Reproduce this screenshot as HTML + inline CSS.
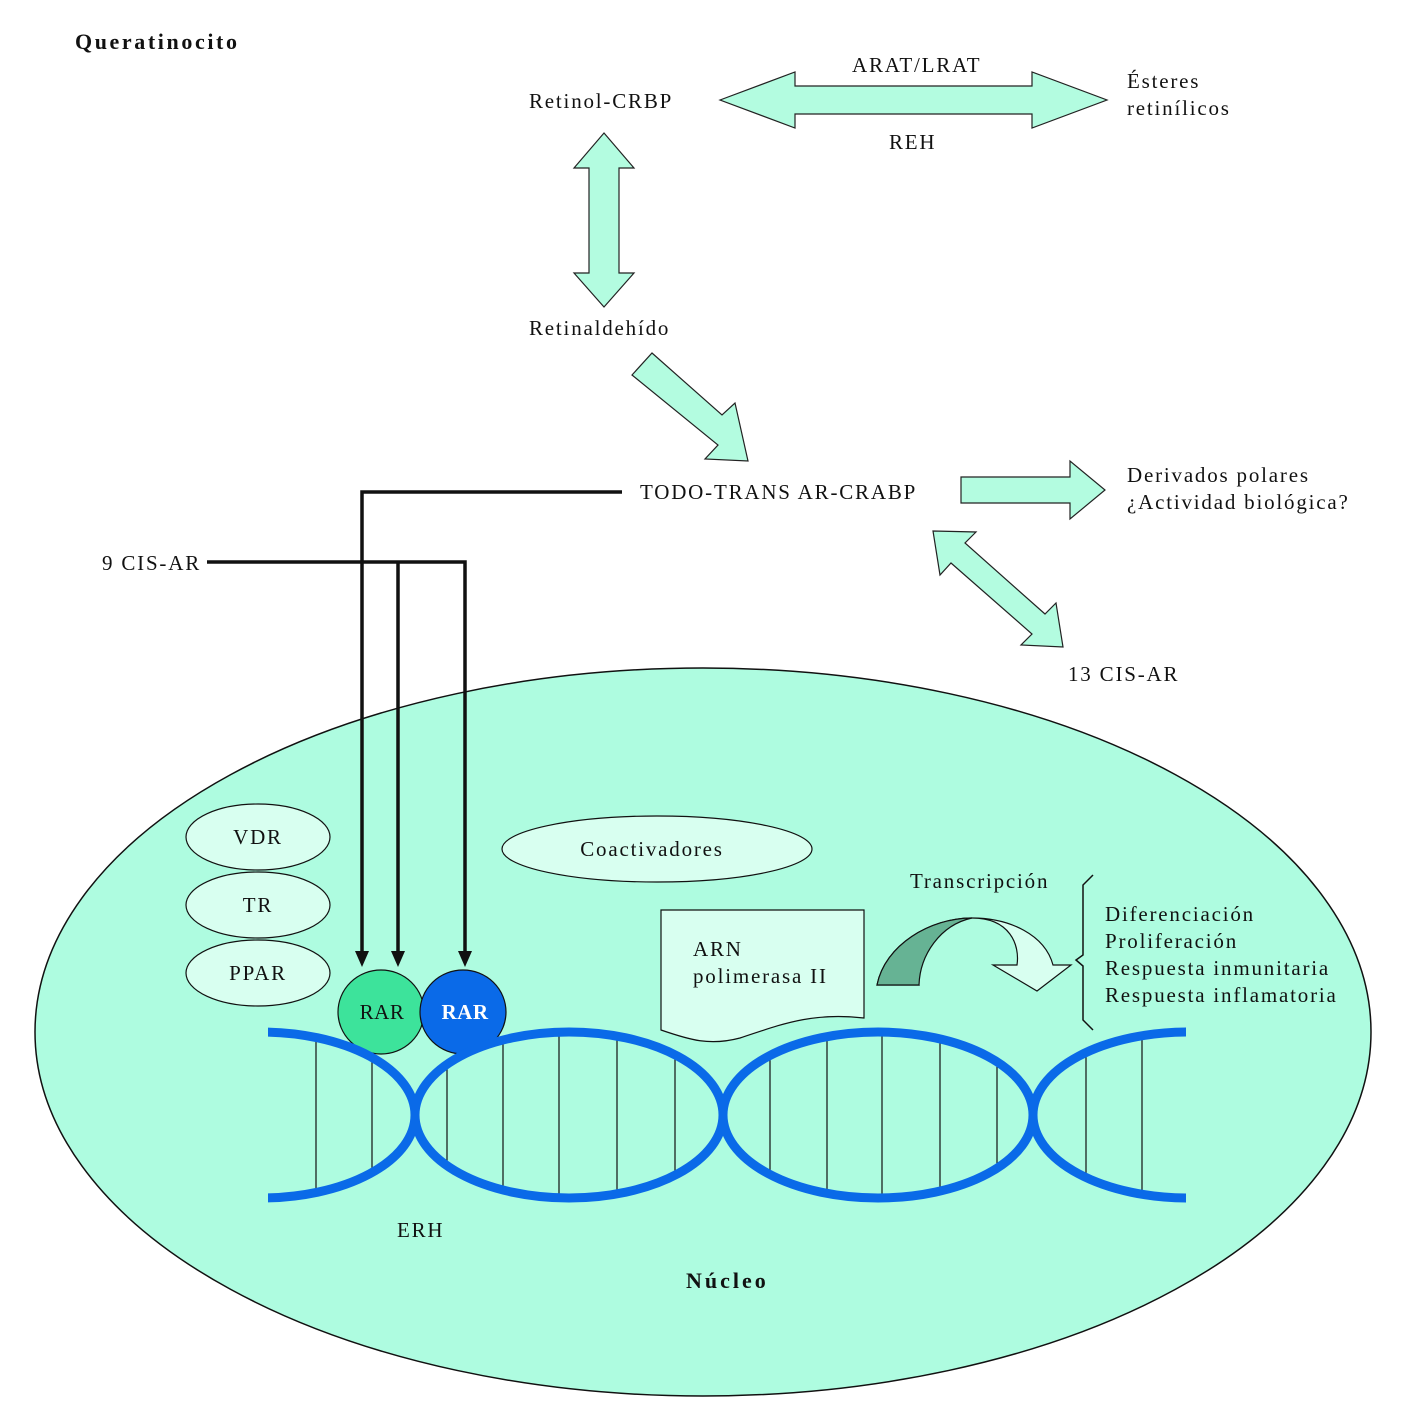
<!DOCTYPE html>
<html><head><meta charset="utf-8"><style>
html,body{margin:0;padding:0;background:#fff;}
svg{display:block;}
text{font-family:"Liberation Serif",serif;font-size:21px;fill:#111;letter-spacing:1.8px;}
</style></head><body>
<svg width="1416" height="1414" viewBox="0 0 1416 1414" xmlns="http://www.w3.org/2000/svg">
<defs>
<clipPath id="lens">
<ellipse cx="261" cy="1115" rx="154" ry="83"/>
<ellipse cx="569" cy="1115" rx="154" ry="83"/>
<ellipse cx="878" cy="1115" rx="155" ry="83"/>
<ellipse cx="1188" cy="1115" rx="155" ry="83"/>
</clipPath>
<clipPath id="dnaclip"><rect x="268" y="1000" width="918" height="230"/></clipPath>
</defs>

<text x="75" y="49" style="font-weight:bold;font-size:22px;letter-spacing:2.6px">Queratinocito</text>

<polygon points="720,100 795,72 795,86 1032,86 1032,72 1107,100 1032,128 1032,114 795,114 795,128" fill="#b3fce0" stroke="#222" stroke-width="1.2"/>
<text x="852" y="72">ARAT/LRAT</text>
<text x="889" y="149">REH</text>
<text x="529" y="108">Retinol-CRBP</text>
<text x="1127" y="88">Ésteres</text>
<text x="1127" y="115">retinílicos</text>

<polygon points="604,133 634,168 619,168 619,273 634,273 604,307 574,273 589,273 589,168 574,168" fill="#b3fce0" stroke="#222" stroke-width="1.2"/>
<text x="529" y="335">Retinaldehído</text>

<polygon points="632,375 652,353 722,415 735,403 748,461 705,459 718,445 632,375" fill="#b3fce0" stroke="#222" stroke-width="1.2"/>
<text x="640" y="499">TODO-TRANS AR-CRABP</text>

<polygon points="961,477 1070,477 1070,461 1105,490 1070,519 1070,503 961,503" fill="#b3fce0" stroke="#222" stroke-width="1.2"/>
<text x="1127" y="482">Derivados polares</text>
<text x="1127" y="509">¿Actividad biológica?</text>

<polygon points="933,531 976,532 965,543 1045,614 1056,603 1063,647 1021,645 1032,634 951,563 940,575" fill="#b3fce0" stroke="#222" stroke-width="1.2"/>
<text x="1068" y="681">13 CIS-AR</text>

<text x="102" y="570">9 CIS-AR</text>

<ellipse cx="703" cy="1032" rx="668" ry="364" fill="#aefce0" stroke="#111" stroke-width="1.5"/>

<ellipse cx="258" cy="837" rx="72" ry="33" fill="#d8fff0" stroke="#111" stroke-width="1.2"/>
<ellipse cx="258" cy="905" rx="72" ry="33" fill="#d8fff0" stroke="#111" stroke-width="1.2"/>
<ellipse cx="258" cy="973" rx="72" ry="33" fill="#d8fff0" stroke="#111" stroke-width="1.2"/>
<text x="258" y="844" text-anchor="middle">VDR</text>
<text x="258" y="912" text-anchor="middle">TR</text>
<text x="258" y="980" text-anchor="middle">PPAR</text>
<ellipse cx="657" cy="849" rx="155" ry="33" fill="#d8fff0" stroke="#111" stroke-width="1.2"/>
<text x="652" y="856" text-anchor="middle">Coactivadores</text>

<path d="M661,910 L864,910 L864,1018 C810,1012 780,1025 740,1038 C710,1046 690,1040 661,1030 Z" fill="#d8fff0" stroke="#111" stroke-width="1.2"/>
<text x="693" y="956">ARN</text>
<text x="693" y="983">polimerasa II</text>

<path d="M877,985 C885,945 930,918 972,918 C1010,918 1020,945 1017,965 L993,965 L1037,991 L1071,965 L1053,965 C1045,935 1010,918 972,918 C930,918 905,950 919,985 Z" fill="#d8fff0" stroke="#111" stroke-width="1.2"/>
<path d="M877,985 C885,945 930,918 972,918 C940,925 920,955 919,985 Z" fill="#66b394" stroke="#111" stroke-width="1.2"/>
<text x="910" y="888">Transcripción</text>
<path d="M1093,875 L1083,885 L1083,955 L1076,960 L1083,966 L1083,1020 L1093,1030" fill="none" stroke="#111" stroke-width="1.5"/>
<text x="1105" y="921">Diferenciación</text>
<text x="1105" y="948">Proliferación</text>
<text x="1105" y="975">Respuesta inmunitaria</text>
<text x="1105" y="1002">Respuesta inflamatoria</text>

<ellipse cx="381" cy="1012" rx="43" ry="42" fill="#3de39b" stroke="#111" stroke-width="1.2"/>
<ellipse cx="463" cy="1012" rx="43" ry="42" fill="#0a6ae8" stroke="#111" stroke-width="1.2"/>
<text x="382" y="1019" text-anchor="middle" style="letter-spacing:0.5px">RAR</text>
<text x="465" y="1019" text-anchor="middle" style="fill:#fff;font-weight:bold;letter-spacing:0.5px">RAR</text>

<g clip-path="url(#lens)" stroke="#111" stroke-width="1.2">
<line x1="316" y1="1020" x2="316" y2="1210"/><line x1="372" y1="1020" x2="372" y2="1210"/>
<line x1="447" y1="1020" x2="447" y2="1210"/><line x1="503" y1="1020" x2="503" y2="1210"/>
<line x1="559" y1="1020" x2="559" y2="1210"/><line x1="617" y1="1020" x2="617" y2="1210"/>
<line x1="675" y1="1020" x2="675" y2="1210"/><line x1="770" y1="1020" x2="770" y2="1210"/>
<line x1="827" y1="1020" x2="827" y2="1210"/><line x1="882" y1="1020" x2="882" y2="1210"/>
<line x1="940" y1="1020" x2="940" y2="1210"/><line x1="997" y1="1020" x2="997" y2="1210"/>
<line x1="1086" y1="1020" x2="1086" y2="1210"/><line x1="1142" y1="1020" x2="1142" y2="1210"/>
</g>
<g clip-path="url(#dnaclip)" fill="none" stroke="#0a6ae8" stroke-width="9">
<ellipse cx="261" cy="1115" rx="154" ry="83"/>
<ellipse cx="569" cy="1115" rx="154" ry="83"/>
<ellipse cx="878" cy="1115" rx="155" ry="83"/>
<ellipse cx="1188" cy="1115" rx="155" ry="83"/>
</g>
<text x="397" y="1237">ERH</text>
<text x="686" y="1288" style="font-weight:bold;font-size:22px;letter-spacing:3px">Núcleo</text>

<g fill="none" stroke="#111" stroke-width="3.5">
<polyline points="622,492 362,492 362,952"/>
<polyline points="207,562 465,562 465,952"/>
<line x1="398" y1="562" x2="398" y2="952"/>
</g>
<g fill="#111">
<polygon points="355,951 369,951 362,967"/>
<polygon points="391,951 405,951 398,967"/>
<polygon points="458,951 472,951 465,967"/>
</g>
</svg>
</body></html>
